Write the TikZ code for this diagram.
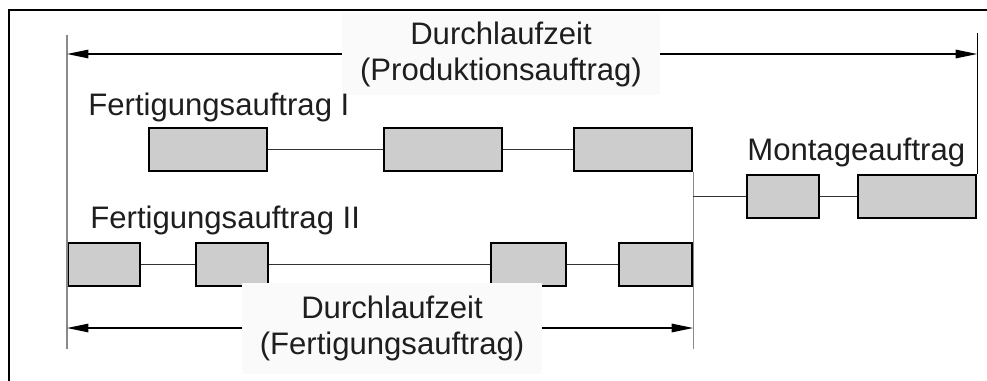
\documentclass[tikz,border=0pt]{standalone}
\usepackage{fontspec}
\setmainfont{Liberation Sans}
\usetikzlibrary{arrows.meta}
\definecolor{opFill}{HTML}{CDCDCD}
\definecolor{txtDark}{HTML}{1E1E1E}
\definecolor{extGrey}{HTML}{8A8A8A}
\definecolor{lblBack}{HTML}{FAFAFA}
\tikzset{
  frameline/.style = {black, line width=1.5pt},
  opbox/.style     = {draw=black, fill=opFill, line width=1.35pt,
                      minimum height=0.86cm, inner sep=0pt},
  longop/.style    = {opbox, minimum width=2.36cm},
  shortop/.style   = {opbox, minimum width=1.44cm},
  linkline/.style  = {line width=0.6pt, black!80},
  extline/.style   = {line width=0.6pt, extGrey},
  dimline/.style   = {{Triangle[length=4.3mm, width=1.7mm]}-{Triangle[length=4.3mm, width=1.7mm]},
                      line width=0.8pt, black},
  lbl/.style       = {font=\fontsize{17.7pt}{20.5pt}\selectfont, txtDark,
                      inner sep=0pt, anchor=base west},
  dimlbl/.style    = {font=\fontsize{17.7pt}{20.5pt}\selectfont, txtDark,
                      fill=lblBack, align=center, inner sep=0pt},
}

\begin{document}
\begin{tikzpicture}[x=0.02cm, y=-0.02cm]
  \useasboundingbox (0,0) rectangle (987,380);
  \draw[frameline] (9,382) -- (9,10) -- (989,10);

  % Fertigungsauftrag I
  \node[longop] (f1a) at (208,149.5) {};
  \node[longop] (f1b) at (443,149.5) {};
  \node[longop] (f1c) at (633,149.5) {};
  \draw[linkline] (f1a) -- (f1b);
  \draw[linkline] (f1b) -- (f1c);

  % Fertigungsauftrag II
  \node[shortop] (f2a) at (104,264.5) {};
  \node[shortop] (f2b) at (232,264.5) {};
  \node[shortop, minimum width=1.5cm] (f2c) at (528.5,264.5) {};
  \node[shortop, minimum width=1.46cm] (f2d) at (655.5,264.5) {};
  \draw[linkline] (f2a) -- (f2b);
  \draw[linkline] (f2b) -- (f2c);
  \draw[linkline] (f2c) -- (f2d);

  % Montageauftrag
  \node[shortop] (mon1) at (783,196.5) {};
  \node[longop]  (mon2) at (917,196.5) {};
  \draw[linkline] (mon1) -- (mon2);

  % Begrenzungslinien
  \coordinate (extLtop) at (67,35);
  \coordinate (extLbot) at (67,349);
  \coordinate (extRtop) at (mon2.east |- 0,33);
  \coordinate (extMbot) at (f1c.east |- extLbot);
  \draw[extline] (extLtop) -- (extLbot);
  \draw[extline] (f1c.south east) -- (extMbot);
  \draw[linkline, black] (extRtop) -- (mon2.north east);
  \draw[linkline] (mon1.west) -- (mon1.west -| extMbot);

  % Bemaßung
  \coordinate (dimL1) at (extLtop |- 0,54);
  \coordinate (dimR1) at (extRtop |- 0,54);
  \coordinate (dimL2) at (extLtop |- 0,328);
  \coordinate (dimR2) at (extMbot |- 0,328);
  \draw[dimline] (dimL1) -- (dimR1);
  \draw[dimline] (dimL2) -- (dimR2);
  \node[dimlbl, minimum width=6.36cm, minimum height=1.64cm] (durchProd) at (501,54)
       {Durchlaufzeit\\(Produktionsauftrag)};
  \node[dimlbl, minimum width=6cm, minimum height=1.82cm] (durchFert) at (392,328)
       {Durchlaufzeit\\(Fertigungsauftrag)};

  \node[lbl] (labF1)  at (88,115)  {Fertigungsauftrag I};
  \node[lbl] (labF2)  at (90,228)  {Fertigungsauftrag II};
  \node[lbl] (labMon) at (747,160) {Montageauftrag};
\end{tikzpicture}
\end{document}
